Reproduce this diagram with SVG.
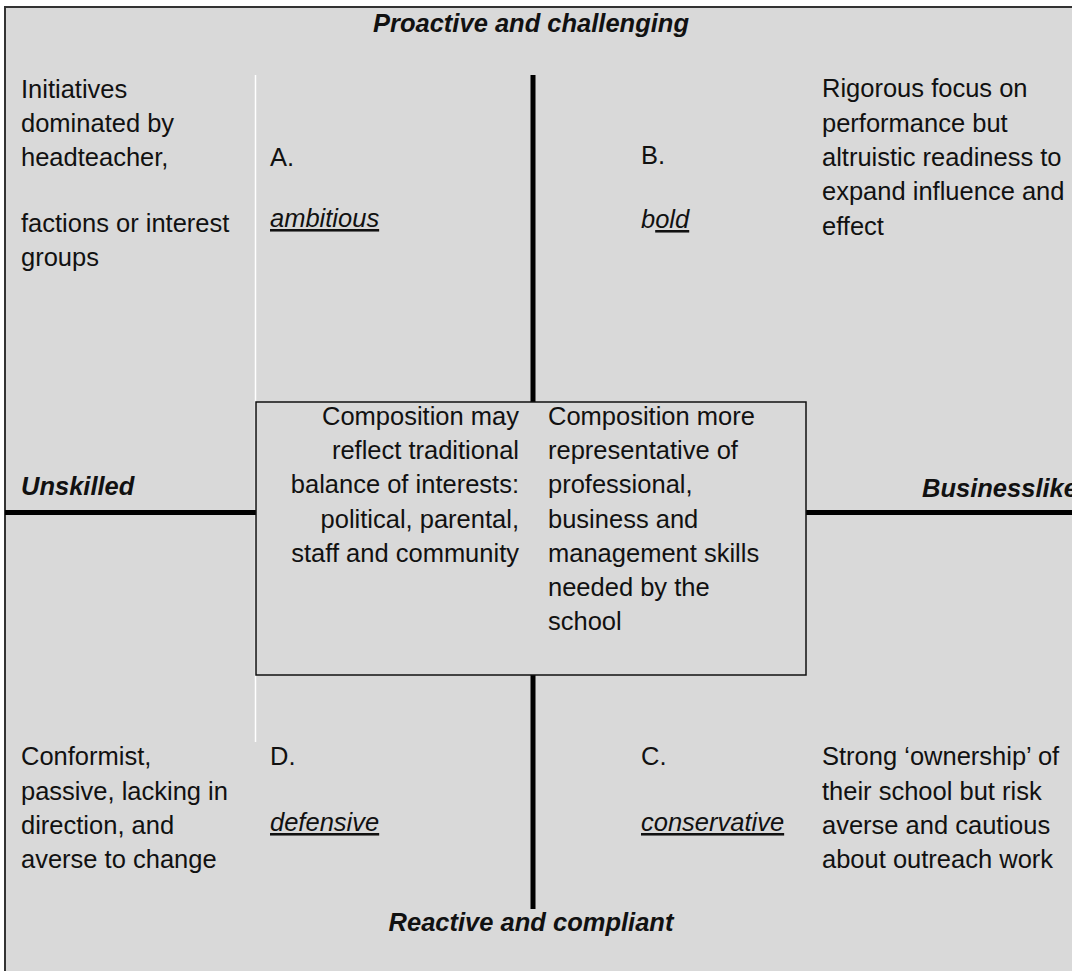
<svg xmlns="http://www.w3.org/2000/svg" width="1072" height="971" viewBox="0 0 1072 971">
  <style>
    text { font-family: "Liberation Sans", Arial, sans-serif; font-size: 25.5px; fill: #111; }
    .axis { font-weight: bold; font-style: italic; }
    .it { font-style: italic; }
    .u { text-decoration: underline; }
    .r { text-anchor: end; }
    .c { text-anchor: middle; }
    .thick { stroke: #000; stroke-width: 5; fill: none; }
  </style>
  <rect x="0" y="0" width="1072" height="971" fill="#ffffff"/>
  <rect id="frame" x="5" y="7" width="1090" height="990" fill="#d9d9d9" stroke="#333" stroke-width="2"/>

  <g id="connectors">
    <line x1="255.5" y1="75" x2="255.5" y2="742" stroke="#ffffff" stroke-width="1.5"/>
    <line class="thick" x1="533" y1="75" x2="533" y2="402"/>
    <line class="thick" x1="533" y1="675" x2="533" y2="909"/>
    <line class="thick" x1="5" y1="512.5" x2="256" y2="512.5"/>
    <line class="thick" x1="806" y1="512.5" x2="1072" y2="512.5"/>
  </g>

  <g id="title-top">
    <text class="axis c" x="531" y="31.5">Proactive and challenging</text>
  </g>
  <g id="title-bottom">
    <text class="axis c" x="531" y="931">Reactive and compliant</text>
  </g>
  <g id="label-unskilled">
    <text class="axis" x="21" y="495">Unskilled</text>
  </g>
  <g id="label-businesslike">
    <text class="axis" x="922" y="497">Businesslike</text>
  </g>

  <g id="desc-a">
    <text x="21" y="97.5">Initiatives</text>
    <text x="21" y="132">dominated by</text>
    <text x="21" y="166">headteacher,</text>
    <text x="21" y="232">factions or interest</text>
    <text x="21" y="266">groups</text>
  </g>
  <g id="quadrant-a">
    <text x="270" y="166">A.</text>
    <text class="it u" x="270" y="227">ambitious</text>
  </g>

  <g id="quadrant-b">
    <text x="641" y="164">B.</text>
    <text class="it" x="641" y="228">b<tspan class="u">old</tspan></text>
  </g>
  <g id="desc-b">
    <text x="822" y="97">Rigorous focus on</text>
    <text x="822" y="131.5">performance but</text>
    <text x="822" y="166">altruistic readiness to</text>
    <text x="822" y="200">expand influence and</text>
    <text x="822" y="234.5">effect</text>
  </g>

  <g id="center-box">
    <rect x="256" y="402" width="550" height="273" fill="#d9d9d9" stroke="#111" stroke-width="1.5"/>
    <text class="r" x="519" y="425">Composition may</text>
    <text class="r" x="519" y="459">reflect traditional</text>
    <text class="r" x="519" y="493">balance of interests:</text>
    <text class="r" x="519" y="527.5">political, parental,</text>
    <text class="r" x="519" y="561.5">staff and community</text>
    <text x="548" y="425">Composition more</text>
    <text x="548" y="459">representative of</text>
    <text x="548" y="493">professional,</text>
    <text x="548" y="527.5">business and</text>
    <text x="548" y="561.5">management skills</text>
    <text x="548" y="596">needed by the</text>
    <text x="548" y="630">school</text>
  </g>

  <g id="desc-d">
    <text x="21" y="765">Conformist,</text>
    <text x="21" y="799.5">passive, lacking in</text>
    <text x="21" y="833.5">direction, and</text>
    <text x="21" y="867.5">averse to change</text>
  </g>
  <g id="quadrant-d">
    <text x="270" y="765">D.</text>
    <text class="it u" x="270" y="831">defensive</text>
  </g>

  <g id="quadrant-c">
    <text x="641" y="765">C.</text>
    <text class="it u" x="641" y="831">conservative</text>
  </g>
  <g id="desc-c">
    <text x="822" y="765">Strong ‘ownership’ of</text>
    <text x="822" y="799.5">their school but risk</text>
    <text x="822" y="833.5">averse and cautious</text>
    <text x="822" y="867.5">about outreach work</text>
  </g>
</svg>
